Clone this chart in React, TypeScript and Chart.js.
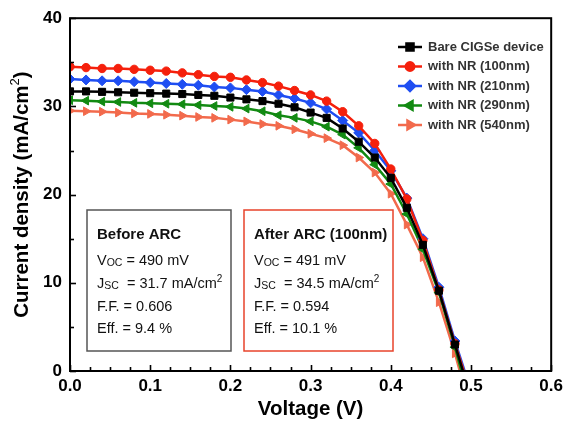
import React, { useEffect, useRef } from 'react';
import { Chart, registerables } from 'chart.js';
import { drawPoint } from 'chart.js/helpers';

Chart.register(...registerables);

const FONT = '"Liberation Sans", Arial, Helvetica, sans-serif';

// Voltage grid (V)
const voltage = [0, 0.02, 0.04, 0.06, 0.08, 0.1, 0.12, 0.14, 0.16, 0.18, 0.2, 0.22, 0.24,
  0.26, 0.28, 0.3, 0.32, 0.34, 0.36, 0.38, 0.4, 0.42, 0.44, 0.46, 0.48];

// Current density (mA/cm2)
const bare = [31.7, 31.7, 31.65, 31.6, 31.55, 31.5, 31.45, 31.4, 31.3, 31.2, 31.0, 30.8, 30.6,
  30.3, 29.9, 29.3, 28.7, 27.5, 26.0, 24.2, 21.9, 18.5, 14.3, 9.1, 3.0];
const nr100 = [34.5, 34.4, 34.3, 34.3, 34.2, 34.1, 34.0, 33.8, 33.6, 33.4, 33.3, 33.0, 32.7,
  32.3, 31.8, 31.3, 30.6, 29.4, 27.8, 25.8, 22.9, 19.5, 14.8, 9.2, 3.1];
const nr210 = [33.1, 33.0, 32.9, 32.9, 32.8, 32.7, 32.6, 32.5, 32.4, 32.2, 32.1, 31.9, 31.7,
  31.3, 30.9, 30.4, 29.7, 28.4, 27.0, 25.0, 22.7, 19.6, 15.0, 9.5, 3.4];
const nr290 = [30.7, 30.65, 30.55, 30.5, 30.4, 30.35, 30.3, 30.25, 30.15, 30.05, 29.95, 29.75, 29.45,
  29.0, 28.7, 28.3, 27.7, 26.8, 25.3, 23.4, 21.2, 17.8, 13.8, 8.9, 2.7];
const nr540 = [29.5, 29.45, 29.4, 29.3, 29.2, 29.15, 29.05, 28.95, 28.8, 28.7, 28.5, 28.3, 28.0,
  27.8, 27.4, 26.9, 26.4, 25.6, 24.2, 22.5, 20.1, 16.6, 12.9, 7.8, 2.0];

// open-circuit voltages (J = 0)
const vocList = [0.490, 0.491, 0.492, 0.488, 0.486];

const seriesNames = ['Bare CIGSe device', 'with NR (100nm)', 'with NR (210nm)', 'with NR (290nm)', 'with NR (540nm)'];
const seriesValues = [bare, nr100, nr210, nr290, nr540];
const seriesColors = ['#000000', '#f5200c', '#1f4ef2', '#128a12', '#f26a4c'];
const seriesMarkers = ['rect', 'circle', 'rectRot', 'triangle', 'triangle'];
const seriesRotation = [0, 0, 0, -90, 90];
const seriesRadius = [5, 4.2, 5, 5, 5];

const xTickLabels = ['0.0', '0.1', '0.2', '0.3', '0.4', '0.5', '0.6'];
const yTickLabels = ['0', '10', '20', '30', '40'];

const beforeBox = { title: 'Before ARC', voc: '490', jsc: '31.7', ff: '0.606', eff: '9.4' };
const afterBox = { title: 'After ARC (100nm)', voc: '491', jsc: '34.5', ff: '0.594', eff: '10.1' };

type Part = { t: string; size: number; dy?: number; bold?: boolean };

function drawRich(ctx: CanvasRenderingContext2D, x: number, y: number, parts: Part[]) {
  let cx = x;
  for (const p of parts) {
    ctx.font = `${p.bold ? 'bold ' : ''}${p.size}px ${FONT}`;
    ctx.fillText(p.t, cx, y + (p.dy || 0));
    cx += ctx.measureText(p.t).width;
  }
}
function richWidth(ctx: CanvasRenderingContext2D, parts: Part[]) {
  let w = 0;
  for (const p of parts) {
    ctx.font = `${p.bold ? 'bold ' : ''}${p.size}px ${FONT}`;
    w += ctx.measureText(p.t).width;
  }
  return w;
}

function drawInfoBox(ctx: CanvasRenderingContext2D, box: typeof beforeBox, left: number, top: number,
  w: number, h: number, color: string) {
  ctx.save();
  ctx.strokeStyle = color;
  ctx.lineWidth = 1.5;
  ctx.strokeRect(left, top, w, h);
  ctx.fillStyle = '#111';
  ctx.textBaseline = 'alphabetic';
  ctx.textAlign = 'left';
  const tx = left + 10;
  const fs = 14.5;
  drawRich(ctx, tx, top + 29, [{ t: box.title, size: 15, bold: true }]);
  drawRich(ctx, tx, top + 55, [{ t: 'V', size: fs }, { t: 'OC', size: 10.5, dy: 1 }, { t: ` = ${box.voc} mV`, size: fs }]);
  drawRich(ctx, tx, top + 78, [{ t: 'J', size: fs }, { t: 'SC', size: 10.5, dy: 1 }, { t: `  = ${box.jsc} mA/cm`, size: fs }, { t: '2', size: 10, dy: -6 }]);
  drawRich(ctx, tx, top + 101, [{ t: `F.F. = ${box.ff}`, size: fs }]);
  drawRich(ctx, tx, top + 123, [{ t: `Eff. = ${box.eff} %`, size: fs }]);
  ctx.restore();
}

const overlayPlugin = {
  id: 'overlay',
  afterDatasetsDraw(chart: any) {
    const { ctx, chartArea: a, scales } = chart;
    const xs = scales.x;
    const ys = scales.y;
    ctx.save();
    ctx.strokeStyle = '#000';
    ctx.lineWidth = 1.6;
    for (let i = 0; i <= 24; i++) {
      const v = i * 0.025;
      const px = Math.round(xs.getPixelForValue(v)) + 0.5;
      const len = i % 4 === 0 ? 6 : 4;
      ctx.beginPath();
      ctx.moveTo(px, a.bottom);
      ctx.lineTo(px, a.bottom - len);
      ctx.stroke();
    }
    for (let i = 0; i <= 8; i++) {
      const v = i * 5;
      const py = Math.round(ys.getPixelForValue(v)) + 0.5;
      const len = i % 2 === 0 ? 6 : 4;
      ctx.beginPath();
      ctx.moveTo(a.left, py);
      ctx.lineTo(a.left + len, py);
      ctx.stroke();
    }
    ctx.lineWidth = 2;
    ctx.strokeRect(a.left, a.top, a.right - a.left, a.bottom - a.top);
    ctx.restore();
  },
  afterDraw(chart: any) {
    const { ctx, chartArea: a } = chart;
    ctx.save();
    // legend
    const lx = 398;
    const ly0 = 47;
    const dy = 19.5;
    seriesNames.forEach((name, i) => {
      const y = ly0 + i * dy;
      ctx.strokeStyle = seriesColors[i];
      ctx.fillStyle = seriesColors[i];
      ctx.lineWidth = 2.5;
      ctx.beginPath();
      ctx.moveTo(lx, y);
      ctx.lineTo(lx + 24, y);
      ctx.stroke();
      drawPoint(ctx, { pointStyle: seriesMarkers[i] as any, rotation: seriesRotation[i], radius: seriesRadius[i], borderWidth: 1 }, lx + 12, y);
      ctx.fillStyle = '#333';
      ctx.font = `bold 13px ${FONT}`;
      ctx.textBaseline = 'middle';
      ctx.textAlign = 'left';
      ctx.fillText(name, lx + 30, y);
    });
    ctx.restore();

    drawInfoBox(ctx, beforeBox, 87, 210, 144, 141, '#555555');
    drawInfoBox(ctx, afterBox, 244, 210, 149, 141, '#e8432b');

    // axis titles
    ctx.save();
    ctx.fillStyle = '#000';
    ctx.textBaseline = 'middle';
    ctx.textAlign = 'center';
    ctx.font = `bold 20.5px ${FONT}`;
    ctx.fillText('Voltage (V)', (a.left + a.right) / 2, 409);
    const parts: Part[] = [
      { t: 'Current density (mA/cm', size: 20.5, bold: true },
      { t: '2', size: 13, bold: false, dy: -7 },
      { t: ')', size: 20.5, bold: true },
    ];
    ctx.translate(22, (a.top + a.bottom) / 2);
    ctx.rotate(-Math.PI / 2);
    ctx.textAlign = 'left';
    const w = richWidth(ctx, parts);
    drawRich(ctx, -w / 2, 0, parts);
    ctx.restore();
  },
};

export default function App() {
  const ref = useRef<HTMLCanvasElement>(null);
  useEffect(() => {
    if (!ref.current) return;
    const datasets = seriesNames.map((name, i) => ({
      label: name,
      data: voltage.map((v, k) => ({ x: v, y: seriesValues[i][k] })).concat([{ x: vocList[i], y: 0 }]),
      borderColor: seriesColors[i],
      backgroundColor: seriesColors[i],
      borderWidth: 2.5,
      pointStyle: seriesMarkers[i],
      pointRotation: seriesRotation[i],
      pointRadius: voltage.map(() => seriesRadius[i]).concat([0]),
      pointBorderWidth: 1,
      tension: 0,
    }));
    const chart = new Chart(ref.current, {
      type: 'line',
      data: { datasets: datasets as any },
      options: {
        responsive: false,
        animation: false,
        events: [],
        layout: { padding: { top: 14, right: 14, left: 0, bottom: 0 } },
        plugins: { legend: { display: false }, tooltip: { enabled: false } },
        scales: {
          x: {
            type: 'linear',
            min: 0,
            max: 0.6,
            afterFit: (s: any) => { s.height = 52; },
            border: { display: false },
            grid: { display: false, drawTicks: false },
            ticks: {
              stepSize: 0.1,
              padding: 5,
              color: '#000',
              font: { family: FONT, size: 17, weight: 'bold' },
              maxRotation: 0,
              callback: (v: any) => xTickLabels[Math.round(Number(v) * 10)] ?? '',
            },
          },
          y: {
            type: 'linear',
            min: 0,
            max: 40,
            afterFit: (s: any) => { s.width = 70; },
            border: { display: false },
            grid: { display: false, drawTicks: false },
            ticks: {
              stepSize: 10,
              padding: 8,
              color: '#000',
              font: { family: FONT, size: 17, weight: 'bold' },
              callback: (v: any) => yTickLabels[Math.round(Number(v) / 10)] ?? '',
            },
          },
        },
      },
      plugins: [overlayPlugin],
    });
    return () => chart.destroy();
  }, []);
  return (
    <div style={{ position: 'fixed', left: 0, top: 0, width: 568, height: 423, background: '#fff' }}>
      <canvas ref={ref} width={568} height={423} style={{ width: 568, height: 423, display: 'block' }} />
    </div>
  );
}
